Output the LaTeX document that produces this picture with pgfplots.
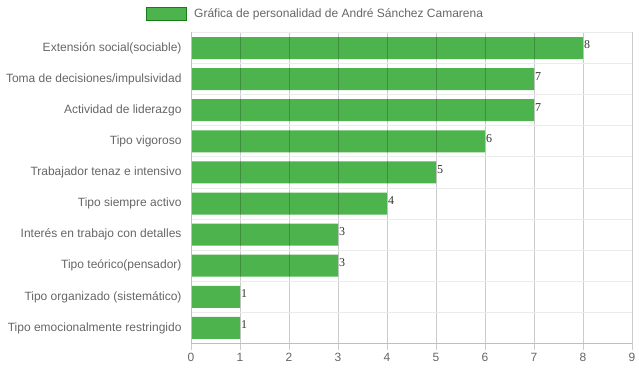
\documentclass[border=0pt]{standalone}
\usepackage{pgfplots}
\pgfplotsset{compat=1.18}
\usepackage{fontspec}
\setmainfont{Liberation Sans}
\newfontfamily\serifnum{Liberation Serif}
\definecolor{barg}{RGB}{77,179,77}
\definecolor{legb}{RGB}{20,125,20}
\definecolor{txt}{RGB}{102,102,102}
\begin{document}
\begin{tikzpicture}
\useasboundingbox (0,0) rectangle (639bp,372bp);
\begin{axis}[
 at={(191bp,28.5bp)}, anchor=south west,
 scale only axis, width=441bp, height=311bp,
 xmin=0, xmax=9, ymin=-0.5, ymax=9.5,
 xbar, bar width=22bp,
 axis on top,
 clip=false,
 xtick={0,...,9},
 ytick={0,...,9},
 yticklabels={Tipo emocionalmente restringido, Tipo organizado (sistemático), Tipo teórico(pensador), Interés en trabajo con detalles, Tipo siempre activo, Trabajador tenaz e intensivo, Tipo vigoroso, Actividad de liderazgo, Toma de decisiones/impulsividad, Extensión social(sociable)},
 minor ytick={-0.5,0.5,...,9.5},
 xmajorgrids=true, yminorgrids=true,
 major grid style={black, opacity=0.2, line width=0.8bp},
 minor grid style={black!8, line width=0.8bp},
 axis lines*=left,
 axis line style={black!25, line width=0.8bp},
 tick align=outside,
 major tick length=6bp,
 minor tick length=8bp,
 xtick style={black, opacity=0.2, line width=0.8bp},
 ytick style={draw=none},
 minor y tick style={black!8, line width=0.8bp},
 ticklabel style={font=\fontsize{12bp}{14bp}\selectfont, text=txt},
 /pgf/number format/assume math mode=true,
 nodes near coords,
 nodes near coords style={font=\serifnum\fontsize{12bp}{14bp}\selectfont, anchor=west, inner sep=1bp, text=black!80, yshift=3bp},
 legend style={draw=none, fill=none, font=\fontsize{12bp}{14bp}\selectfont, text=txt, at={(0.282,1.059)}, anchor=center, legend cell align=left},
 legend image code/.code={\draw[fill=barg, draw=legb, line width=1.5bp] (0bp,-6.5bp) rectangle (40bp,6.5bp);},
]
\addplot[fill=barg, draw=none] coordinates {(1,0) (1,1) (3,2) (3,3) (4,4) (5,5) (6,6) (7,7) (7,8) (8,9)};
\addlegendentry{\hspace{5bp}Gráfica de personalidad de André Sánchez Camarena}
\end{axis}
\end{tikzpicture}
\end{document}
